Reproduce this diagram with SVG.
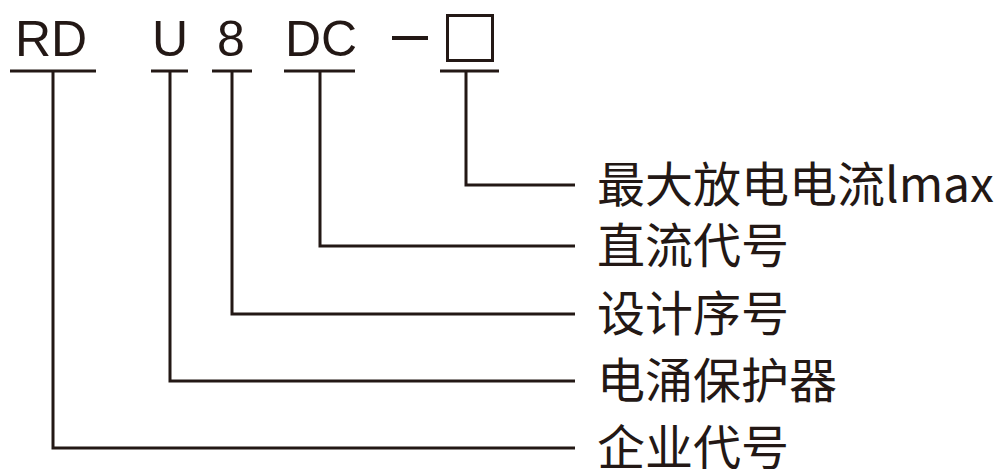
<svg xmlns="http://www.w3.org/2000/svg" width="1007" height="469" viewBox="0 0 1007 469">
<style>
.code{font-family:"Liberation Sans",Arial,sans-serif;font-size:50px;fill:#231815;text-anchor:middle}
.lbl{font-family:"Noto Sans CJK SC","Noto Sans",sans-serif;font-size:48px;fill:#231815}
.ln{fill:none;stroke:#231815;stroke-width:3}
</style>
<rect width="1007" height="469" fill="#fff"/>
<g id="code-rd"><text class="code" x="51" y="56">RD</text><line class="ln" x1="10" y1="71" x2="96" y2="71"/></g>
<g id="code-u"><text class="code" x="170" y="56">U</text><line class="ln" x1="151" y1="71" x2="188" y2="71"/></g>
<g id="code-8"><text class="code" x="231" y="56">8</text><line class="ln" x1="212" y1="71" x2="252" y2="71"/></g>
<g id="code-dc"><text class="code" x="321" y="56">DC</text><line class="ln" x1="284" y1="71" x2="355" y2="71"/></g>
<g id="code-dash"><line x1="392" y1="38" x2="428" y2="38" stroke="#231815" stroke-width="4"/></g>
<g id="code-box"><rect class="ln" x="447.5" y="15.5" width="45" height="45"/><line class="ln" x1="440" y1="71" x2="499" y2="71"/></g>
<g id="connectors">
<polyline class="ln" points="466,71 466,185 575,185"/>
<polyline class="ln" points="320,71 320,246 575,246"/>
<polyline class="ln" points="232,71 232,314 575,314"/>
<polyline class="ln" points="170,71 170,381 575,381"/>
<polyline class="ln" points="53,71 53,448 575,448"/>
</g>
<g id="label-imax"><text class="lbl" x="597" y="202">最大放电电流lmax</text></g>
<g id="label-dc"><text class="lbl" x="597" y="263">直流代号</text></g>
<g id="label-seq"><text class="lbl" x="597" y="331">设计序号</text></g>
<g id="label-spd"><text class="lbl" x="597" y="398">电涌保护器</text></g>
<g id="label-corp"><text class="lbl" x="597" y="465">企业代号</text></g>
</svg>
